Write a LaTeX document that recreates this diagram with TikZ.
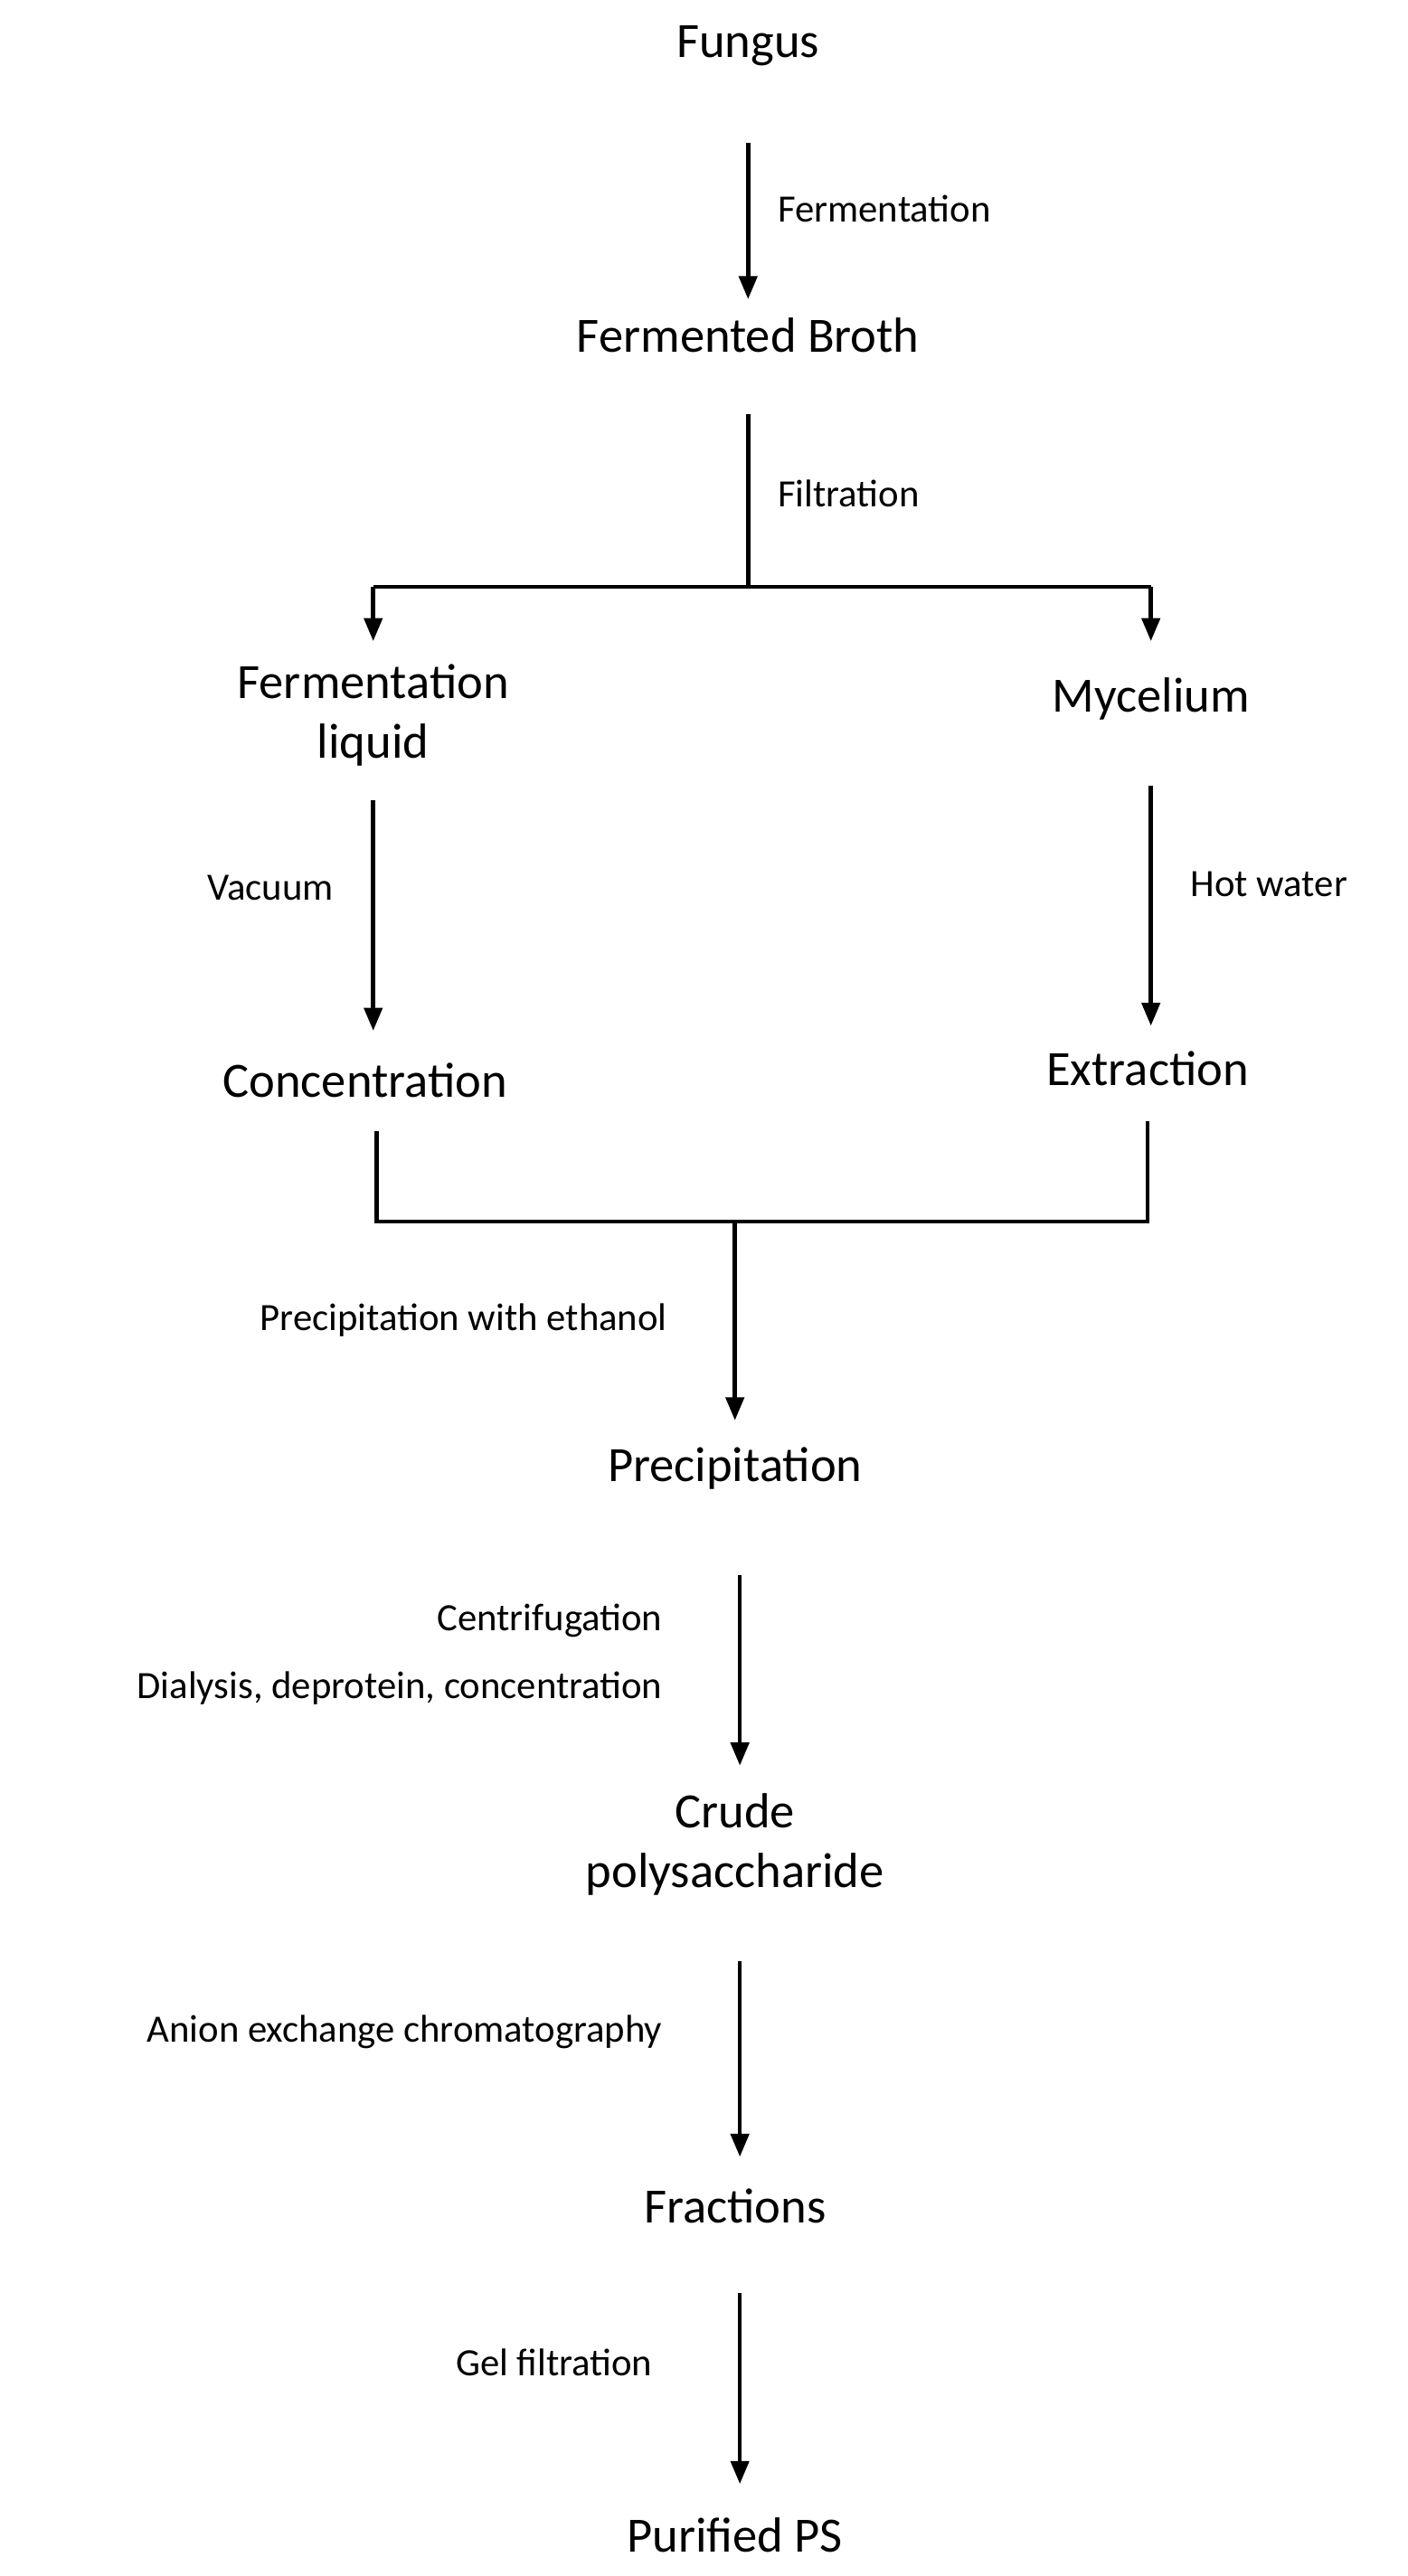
\documentclass[tikz,border=0pt]{standalone}
\usepackage{fontspec}
\setmainfont{Carlito}
\usetikzlibrary{arrows.meta}
\begin{document}
\begin{tikzpicture}[x=1pt,y=-1pt,
  big/.style={font=\fontsize{30}{36}\selectfont,align=center,inner sep=0},
  small/.style={font=\fontsize{23.5}{28}\selectfont,inner sep=0},
  arr/.style={line width=2.5pt,-{Triangle[length=14pt,width=11pt]}},
  ln/.style={line width=2.5pt}]
\useasboundingbox (0,0) rectangle (856,1567);
\node[big] (fungus) at (455,28) {Fungus};
\node[big] (broth) at (455,204) {Fermented Broth};
\node[big] (liquid) at (227,435) {Fermentation\\liquid};
\node[big] (myc) at (700,425) {Mycelium};
\node[big] (conc) at (222,657) {Concentration};
\node[big] (extr) at (698,650) {Extraction};
\node[big] (prec) at (447,893) {Precipitation};
\node[big] (crude) at (447,1122) {Crude\\polysaccharide};
\node[big] (frac) at (447,1342) {Fractions};
\node[big] (pur) at (447,1542) {Purified PS};
\node[small,anchor=west] (l1) at (473,127) {Fermentation};
\node[small,anchor=west] (l2) at (473,300) {Filtration};
\node[small,anchor=east] (l3) at (203,540) {Vacuum};
\node[small,anchor=west] (l4) at (724,538) {Hot water};
\node[small,anchor=east] (l5) at (406,803) {Precipitation with ethanol};
\node[small,anchor=east] (l6) at (403,986) {Centrifugation};
\node[small,anchor=east] (l7) at (403,1027) {Dialysis, deprotein, concentration};
\node[small,anchor=east] (l8) at (403,1236) {Anion exchange chromatography};
\node[small,anchor=east] (l9) at (397,1437) {Gel filtration};
\coordinate (a1) at (455,87); \coordinate (a2) at (455,182);
\draw[arr] (a1) -- (a2);
\coordinate (b1) at (455,252); \coordinate (b2) at (455,357);
\coordinate (bl) at (227,357); \coordinate (br) at (700,357);
\coordinate (bl2) at (227,390); \coordinate (br2) at (700,390);
\draw[ln] (b1) -- (b2);
\draw[ln] (bl) -- (br);
\draw[arr] (bl) -- (bl2);
\draw[arr] (br) -- (br2);
\coordinate (c1) at (227,487); \coordinate (c2) at (227,627);
\draw[arr] (c1) -- (c2);
\coordinate (d1) at (700,478); \coordinate (d2) at (700,624);
\draw[arr] (d1) -- (d2);
\coordinate (e1) at (229,688); \coordinate (e2) at (698,682);
\draw[ln] (e1) -- (229,743) -- (698,743) -- (e2);
\coordinate (f1) at (447,742); \coordinate (f2) at (447,864);
\draw[arr] (f1) -- (f2);
\coordinate (g1) at (450,958); \coordinate (g2) at (450,1074);
\draw[arr] (g1) -- (g2);
\coordinate (h1) at (450,1193); \coordinate (h2) at (450,1312);
\draw[arr] (h1) -- (h2);
\coordinate (i1) at (450,1395); \coordinate (i2) at (450,1511);
\draw[arr] (i1) -- (i2);
\end{tikzpicture}
\end{document}
